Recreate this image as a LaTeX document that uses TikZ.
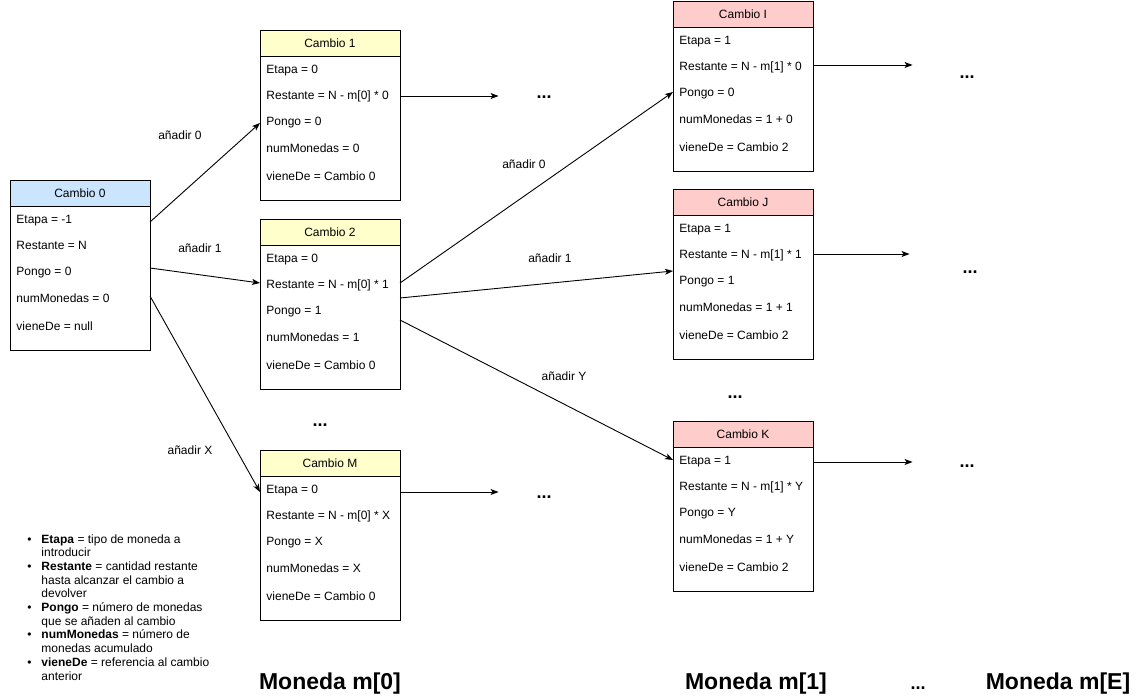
\documentclass[tikz,border=0pt]{standalone}
\usepackage{fontspec}
\setmainfont{Liberation Sans}
\usetikzlibrary{arrows.meta,positioning,calc}
\definecolor{azul}{HTML}{CCE5FF}
\definecolor{amarillo}{HTML}{FFFFCC}
\definecolor{rosa}{HTML}{FFCCCC}
\tikzset{
  cabecera/.style={draw, rectangle, minimum width=140pt, minimum height=26pt, inner sep=0pt, outer sep=0pt, font=\fontsize{12}{14}\selectfont},
  cuerpo/.style={draw, rectangle, minimum width=140pt, minimum height=144pt, inner sep=0pt, outer sep=0pt},
  fila/.style={anchor=base west, inner sep=0pt, font=\fontsize{12}{14}\selectfont},
  etiqueta/.style={inner sep=0pt, font=\fontsize{12}{14}\selectfont},
  puntos/.style={inner sep=0pt, minimum width=90pt, font=\bfseries\fontsize{18}{18}\selectfont},
  titulo/.style={anchor=base, inner sep=0pt, font=\bfseries\fontsize{23}{25}\selectfont},
  flecha/.style={-{Stealth[length=8pt,width=6pt,inset=2pt]}}
}

\begin{document}
\begin{tikzpicture}[x=1pt,y=-1pt,line width=0.9pt]
        \useasboundingbox (0,0) rectangle (1138,699);

        % cajas
        \node[cabecera,fill=azul] (c0) at (80,193) {Cambio 0};
        \node[cuerpo,below=0pt of c0] (c0b) {};
        \foreach \t/\dy in {{Etapa = -1}/17,{Restante = N}/43,{Pongo = 0}/69,{numMonedas = 0}/96,{vieneDe = null}/124}
          \node[fila] at ($(c0b.north west)+(6,\dy)$) {\t};

        \node[cabecera,fill=amarillo] (c1) at (330,43) {Cambio 1};
        \node[cuerpo,below=0pt of c1] (c1b) {};
        \foreach \t/\dy in {{Etapa = 0}/17,{Restante = N - m[0] * 0}/43,{Pongo = 0}/69,{numMonedas = 0}/96,{vieneDe = Cambio 0}/124}
          \node[fila] at ($(c1b.north west)+(6,\dy)$) {\t};

        \node[cabecera,fill=amarillo] (c2) at (330,232) {Cambio 2};
        \node[cuerpo,below=0pt of c2] (c2b) {};
        \foreach \t/\dy in {{Etapa = 0}/17,{Restante = N - m[0] * 1}/43,{Pongo = 1}/69,{numMonedas = 1}/96,{vieneDe = Cambio 0}/124}
          \node[fila] at ($(c2b.north west)+(6,\dy)$) {\t};

        \node[cabecera,fill=amarillo] (cM) at (330,463) {Cambio M};
        \node[cuerpo,below=0pt of cM] (cMb) {};
        \foreach \t/\dy in {{Etapa = 0}/17,{Restante = N - m[0] * X}/43,{Pongo = X}/69,{numMonedas = X}/96,{vieneDe = Cambio 0}/124}
          \node[fila] at ($(cMb.north west)+(6,\dy)$) {\t};

        \node[cabecera,fill=rosa] (cI) at (743,14) {Cambio I};
        \node[cuerpo,below=0pt of cI] (cIb) {};
        \foreach \t/\dy in {{Etapa = 1}/17,{Restante = N - m[1] * 0}/43,{Pongo = 0}/69,{numMonedas = 1 + 0}/96,{vieneDe = Cambio 2}/124}
          \node[fila] at ($(cIb.north west)+(6,\dy)$) {\t};

        \node[cabecera,fill=rosa] (cJ) at (743,202) {Cambio J};
        \node[cuerpo,below=0pt of cJ] (cJb) {};
        \foreach \t/\dy in {{Etapa = 1}/17,{Restante = N - m[1] * 1}/43,{Pongo = 1}/69,{numMonedas = 1 + 1}/96,{vieneDe = Cambio 2}/124}
          \node[fila] at ($(cJb.north west)+(6,\dy)$) {\t};

        \node[cabecera,fill=rosa] (cK) at (743,434) {Cambio K};
        \node[cuerpo,below=0pt of cK] (cKb) {};
        \foreach \t/\dy in {{Etapa = 1}/17,{Restante = N - m[1] * Y}/43,{Pongo = Y}/69,{numMonedas = 1 + Y}/96,{vieneDe = Cambio 2}/124}
          \node[fila] at ($(cKb.north west)+(6,\dy)$) {\t};

        % puntos suspensivos
        \node[puntos] (d1) at (544,97) {...};
        \node[puntos] (dM) at (544,497) {...};
        \node[puntos,minimum width=108pt] (dI) at (967,77) {...};
        \node[puntos,minimum width=120pt] (dJ) at (970,272) {...};
        \node[puntos,minimum width=108pt] (dK) at (967,466) {...};
        \node[puntos] (d2M) at (320,425) {...};
        \node[puntos] (dJK) at (735,397) {...};

        % conectores
        \draw[flecha] ($(c0b.north east)+(0,16)$) -- ($(c1b.north west)+(0,67)$);
        \draw[flecha] ($(c0b.north east)+(0,62)$) -- ($(c2b.north west)+(0,38)$);
        \draw[flecha] ($(c0b.north east)+(0,90)$) -- ($(cMb.north west)+(0,16)$);
        \draw[flecha] ($(c2b.north east)+(0,38)$) -- ($(cIb.north west)+(0,65)$);
        \draw[flecha] ($(c2b.north east)+(0,53)$) -- ($(cJb.north west)+(0,56)$);
        \draw[flecha] ($(c2b.north east)+(0,75)$) -- ($(cKb.north west)+(0,13)$);

        \coordinate (s1) at ($(c1b.north east)+(0,40)$);
        \coordinate (sM) at ($(cMb.north east)+(0,16)$);
        \coordinate (sI) at ($(cIb.north east)+(0,38)$);
        \coordinate (sJ) at ($(cJb.north east)+(0,39)$);
        \coordinate (sK) at ($(cKb.north east)+(0,15)$);
        \draw[flecha] (s1) -- (s1 -| d1.west);
        \draw[flecha] (sM) -- (sM -| dM.west);
        \draw[flecha] (sI) -- (sI -| dI.west);
        \draw[flecha] (sJ) -- (sJ -| dJ.west);
        \draw[flecha] (sK) -- (sK -| dK.west);

        % etiquetas
        \node[etiqueta] (e01) at (180,135) {añadir 0};
        \node[etiqueta] (e02) at (200,248) {añadir 1};
        \node[etiqueta] (e0M) at (190,450) {añadir X};
        \node[etiqueta] (e2I) at (524,164) {añadir 0};
        \node[etiqueta] (e2J) at (550,258) {añadir 1};
        \node[etiqueta] (e2K) at (564,376) {añadir Y};

        % leyenda
        \node[anchor=north west,inner sep=0pt,font=\fontsize{12}{13.7}\selectfont] (ley) at (27,533) {%
          \begin{tabular}{@{}p{14pt}@{}l@{}}
            \textbullet & \textbf{Etapa} = tipo de moneda a\\
             & introducir\\
            \textbullet & \textbf{Restante} = cantidad restante\\
             & hasta alcanzar el cambio a\\
             & devolver\\
            \textbullet & \textbf{Pongo} = número de monedas\\
             & que se añaden al cambio\\
            \textbullet & \textbf{numMonedas} = número de\\
             & monedas acumulado\\
            \textbullet & \textbf{vieneDe} = referencia al cambio\\
             & anterior
          \end{tabular}};

        % monedas
        \node[titulo] (m0) at (330,689) {Moneda m[0]};
        \node[titulo] (m1) at (756,689) {Moneda m[1]};
        \node[titulo,font=\bfseries\fontsize{18}{18}\selectfont] (mx) at (918,689) {...};
        \node[titulo] (mE) at (1058,689) {Moneda m[E]};
\end{tikzpicture}
\end{document}
